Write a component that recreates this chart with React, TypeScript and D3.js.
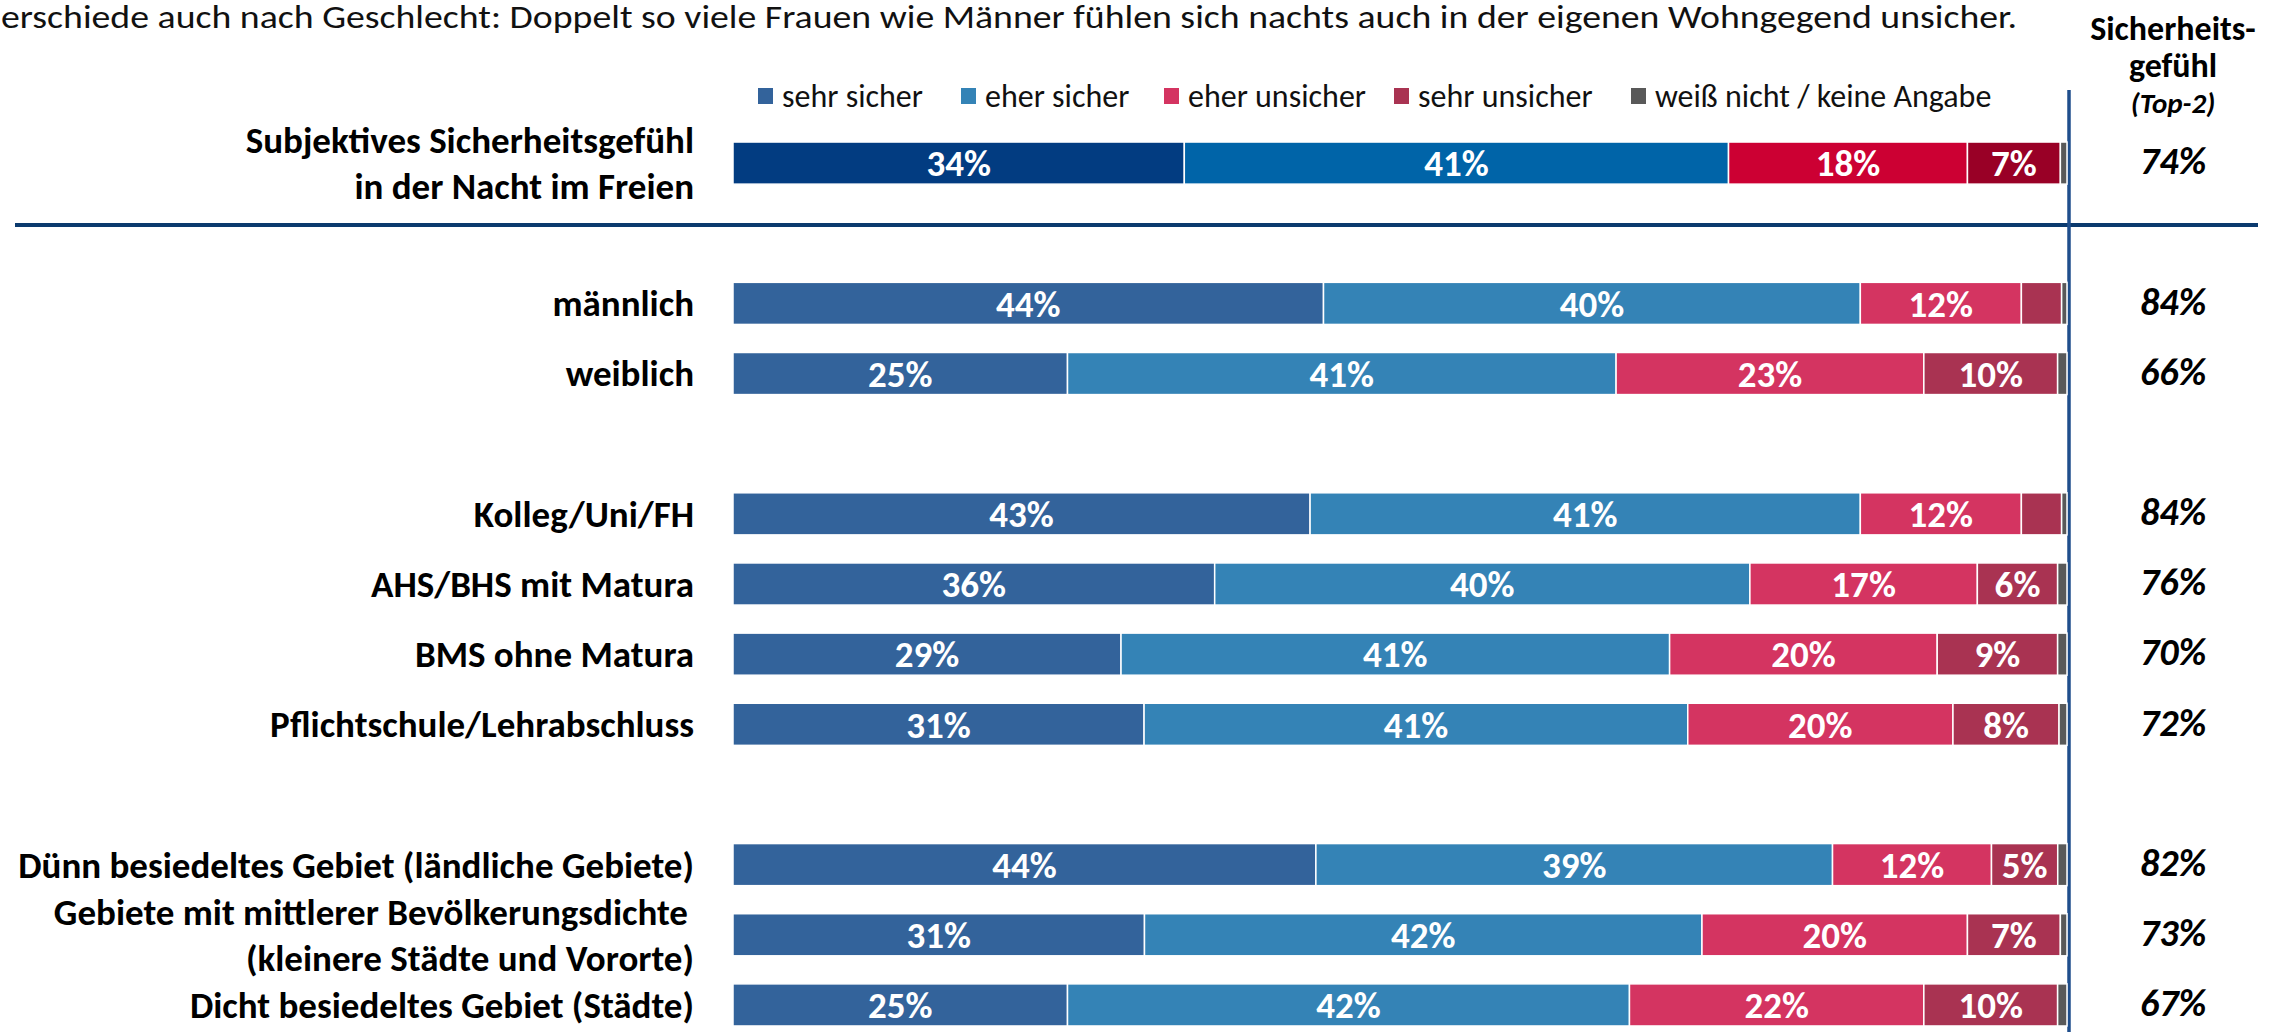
import React from "react";
import * as d3 from "d3";

const W = 2287;
const H = 1032;

const titleText =
  "erschiede auch nach Geschlecht: Doppelt so viele Frauen wie Männer fühlen sich nachts auch in der eigenen Wohngegend unsicher.";

const seriesNames = ["sehr sicher", "eher sicher", "eher unsicher", "sehr unsicher", "weiß nicht / keine Angabe"];

// row ids (blank ids are spacer slots)
const rowIds = ["total", "gap1", "m", "w", "gap2", "kolleg", "ahs", "bms", "pflicht", "gap3", "duenn", "mittel", "dicht"];

const rowLabels: Record<string, string[]> = {
  total: ["Subjektives Sicherheitsgefühl", "in der Nacht im Freien"],
  m: ["männlich"],
  w: ["weiblich"],
  kolleg: ["Kolleg/Uni/FH"],
  ahs: ["AHS/BHS mit Matura"],
  bms: ["BMS ohne Matura"],
  pflicht: ["Pflichtschule/Lehrabschluss"],
  duenn: ["Dünn besiedeltes Gebiet (ländliche Gebiete)"],
  mittel: ["Gebiete mit mittlerer Bevölkerungsdichte", "(kleinere Städte und Vororte)"],
  dicht: ["Dicht besiedeltes Gebiet (Städte)"],
};

const sehrSicher: Record<string, number> = { total: 34, m: 44, w: 25, kolleg: 43, ahs: 36, bms: 29, pflicht: 31, duenn: 44, mittel: 31, dicht: 25 };
const eherSicher: Record<string, number> = { total: 41, m: 40, w: 41, kolleg: 41, ahs: 40, bms: 41, pflicht: 41, duenn: 39, mittel: 42, dicht: 42 };
const eherUnsicher: Record<string, number> = { total: 18, m: 12, w: 23, kolleg: 12, ahs: 17, bms: 20, pflicht: 20, duenn: 12, mittel: 20, dicht: 22 };
const sehrUnsicher: Record<string, number> = { total: 7, m: 3, w: 10, kolleg: 3, ahs: 6, bms: 9, pflicht: 8, duenn: 5, mittel: 7, dicht: 10 };
const weissNicht: Record<string, number> = { total: 0.5, m: 0.4, w: 0.7, kolleg: 0.4, ahs: 0.7, bms: 0.7, pflicht: 0.6, duenn: 0.7, mittel: 0.5, dicht: 0.7 };
const top2: Record<string, number> = { total: 74, m: 84, w: 66, kolleg: 84, ahs: 76, bms: 70, pflicht: 72, duenn: 82, mittel: 73, dicht: 67 };

// segments below this share are not labelled
const minLabel = 4;

const colorsMain = ["#33639B", "#3483B6", "#D43461", "#A93352", "#595959"];
const colorsTotal = ["#023C81", "#0064A8", "#CC0033", "#990026", "#595959"];

const FONT = "Carlito, Calibri, Lato, 'Open Sans', sans-serif";

export default function App() {
  const dataRows = rowIds.filter((id) => rowLabels[id]);
  const series = [sehrSicher, eherSicher, eherUnsicher, sehrUnsicher, weissNicht];

  const y = d3.scaleBand<string>().domain(rowIds).range([128, 1040]).paddingInner(0.4).paddingOuter(0.2);
  const barX0 = 733;
  const barX1 = 2067;
  const bw = y.bandwidth();

  const legendX = [758, 961, 1164, 1394, 1631];
  const colX = 2173;

  return (
    <svg width={W} height={H} style={{ position: "absolute", left: 0, top: 0, background: "#fff" }} fontFamily={FONT}>
      <rect x={0} y={0} width={W} height={H} fill="#fff" />
      <text x={1} y={28} fontSize={32} fill="#111" textLength={2016} lengthAdjust="spacingAndGlyphs">
        {titleText}
      </text>

      {/* legend */}
      {seriesNames.map((name, i) => (
        <g key={name}>
          <rect x={legendX[i]} y={88} width={15} height={16} fill={colorsMain[i]} />
          <text x={legendX[i] + 24} y={96} dy="0.35em" fontSize={32} fill="#111">
            {name}
          </text>
        </g>
      ))}

      {/* right column header */}
      <text x={colX} y={28} dy="0.35em" textAnchor="middle" fontSize={34} fontWeight="bold" fill="#000">
        Sicherheits-
      </text>
      <text x={colX} y={65} dy="0.35em" textAnchor="middle" fontSize={34} fontWeight="bold" fill="#000">
        gefühl
      </text>
      <text x={colX} y={103} dy="0.35em" textAnchor="middle" fontSize={29} fontWeight="bold" fontStyle="italic" fill="#000">
        (Top-2)
      </text>

      {/* separators */}
      <line x1={15} x2={2258} y1={225} y2={225} stroke="#0B3A6E" strokeWidth={4} />
      <line x1={2069} x2={2069} y1={90} y2={H} stroke="#1F4E8C" strokeWidth={3.5} />

      {dataRows.map((id) => {
        const vals = series.map((s) => s[id]);
        const total = d3.sum(vals);
        const x = d3.scaleLinear().domain([0, total]).range([barX0, barX1]);
        const cum = d3.cumsum(vals);
        const colors = id === "total" ? colorsTotal : colorsMain;
        const yTop = y(id)!;
        const yc = yTop + bw / 2;
        const lines = rowLabels[id];
        return (
          <g key={id}>
            {vals.map((v, i) => {
              const s = i === 0 ? 0 : cum[i - 1];
              const xa = x(s);
              const xb = x(s + v);
              return (
                <g key={i}>
                  <rect x={xa} y={yTop} width={Math.max(0, xb - xa)} height={bw} fill={colors[i]} stroke="#fff" strokeWidth={1.5} />
                  {i < 4 && v >= minLabel && (
                    <text x={(xa + xb) / 2} y={yc} dy="0.36em" textAnchor="middle" fontSize={37} fontWeight="bold" fill="#fff">
                      {v}%
                    </text>
                  )}
                </g>
              );
            })}
            {lines.length === 1 ? (
              <text x={694} y={yc} dy="0.35em" textAnchor="end" fontSize={37} fontWeight="bold" fill="#000">
                {lines[0]}
              </text>
            ) : (
              lines.map((ln, k) => (
                <text key={k} x={k === 0 && id === "mittel" ? 688 : 694} y={yc + (k === 0 ? -23 : 23)} dy="0.35em" textAnchor="end" fontSize={37} fontWeight="bold" fill="#000">
                  {ln}
                </text>
              ))
            )}
            <text x={colX} y={yc - 2} dy="0.35em" textAnchor="middle" fontSize={38} fontWeight="bold" fontStyle="italic" fill="#000">
              {top2[id]}%
            </text>
          </g>
        );
      })}
    </svg>
  );
}
